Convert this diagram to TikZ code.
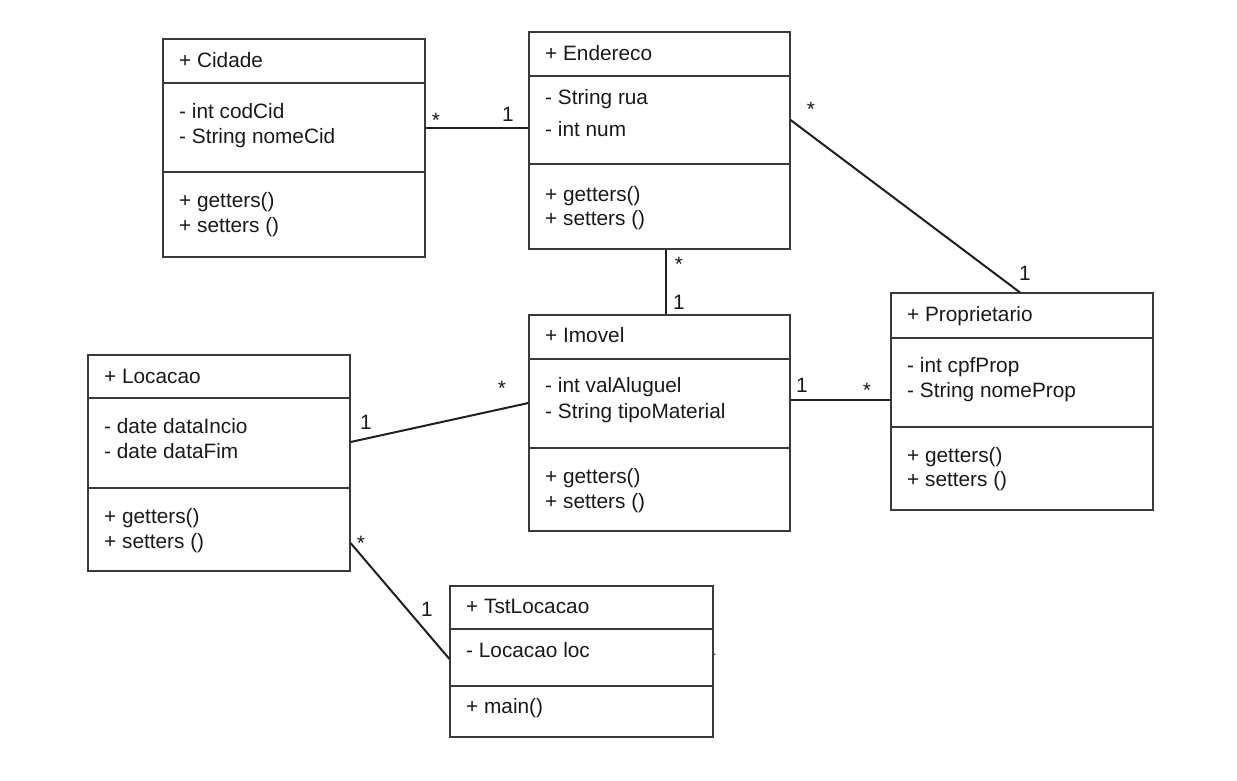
\documentclass[tikz,border=0pt]{standalone}
\usepackage{fontspec}
\setmainfont{Liberation Sans}
\begin{document}
\begin{tikzpicture}[x=1pt,y=-1pt,
  box/.style={draw=boxc, line width=1.1pt, inner sep=0pt, fill=none},
  txt/.style={anchor=base west, inner sep=0pt, text=txtc, font=\fontsize{20.8}{24}\selectfont},
  mult/.style={anchor=base, inner sep=0pt, text=txtc, font=\fontsize{20.8}{24}\selectfont},
  conn/.style={draw=linec, line width=2pt},
  divl/.style={draw=boxc, line width=1.1pt}]
\definecolor{boxc}{HTML}{3A3A3A}
\definecolor{txtc}{HTML}{1A1A1A}
\definecolor{linec}{HTML}{202020}
\useasboundingbox[fill=white] (0,0) rectangle (1237,780);

% ---- Cidade
\node[box, minimum width=262pt, minimum height=218pt] (cid) at (294,148) {};
\draw[divl] (cid.west |- 0,83) -- (cid.east |- 0,83);
\draw[divl] (cid.west |- 0,172) -- (cid.east |- 0,172);
\node[txt] (cidh) at (179,67) {+ Cidade};
\node[txt] (cida1) at (179,118) {- int codCid};
\node[txt] (cida2) at (179,143) {- String nomeCid};
\node[txt] (cidm1) at (179,207) {+ getters()};
\node[txt] (cidm2) at (179,232) {+ setters ()};

% ---- Endereco
\node[box, minimum width=261pt, minimum height=217pt] (end) at (659.5,140.5) {};
\draw[divl] (end.west |- 0,76) -- (end.east |- 0,76);
\draw[divl] (end.west |- 0,164) -- (end.east |- 0,164);
\node[txt] (endh) at (545,60) {+ Endereco};
\node[txt] (enda1) at (545,104) {- String rua};
\node[txt] (enda2) at (545,136) {- int num};
\node[txt] (endm1) at (545,201) {+ getters()};
\node[txt] (endm2) at (545,225) {+ setters ()};

% ---- Imovel
\node[box, minimum width=261pt, minimum height=216pt] (imo) at (659.5,423) {};
\draw[divl] (imo.west |- 0,359) -- (imo.east |- 0,359);
\draw[divl] (imo.west |- 0,448) -- (imo.east |- 0,448);
\node[txt] (imoh) at (545,342) {+ Imovel};
\node[txt] (imoa1) at (545,392) {- int valAluguel};
\node[txt] (imoa2) at (545,418) {- String tipoMaterial};
\node[txt] (imom1) at (545,483) {+ getters()};
\node[txt] (imom2) at (545,508) {+ setters ()};

% ---- Locacao
\node[box, minimum width=262pt, minimum height=216pt] (loc) at (219,463) {};
\draw[divl] (loc.west |- 0,398) -- (loc.east |- 0,398);
\draw[divl] (loc.west |- 0,488) -- (loc.east |- 0,488);
\node[txt] (loch) at (104,383) {+ Locacao};
\node[txt] (loca1) at (104,433) {- date dataIncio};
\node[txt] (loca2) at (104,458) {- date dataFim};
\node[txt] (locm1) at (104,523) {+ getters()};
\node[txt] (locm2) at (104,548) {+ setters ()};

% ---- Proprietario
\node[box, minimum width=262pt, minimum height=217pt] (prop) at (1022,401.5) {};
\draw[divl] (prop.west |- 0,338) -- (prop.east |- 0,338);
\draw[divl] (prop.west |- 0,427) -- (prop.east |- 0,427);
\node[txt] (proph) at (907,321) {+ Proprietario};
\node[txt] (propa1) at (907,372) {- int cpfProp};
\node[txt] (propa2) at (907,397) {- String nomeProp};
\node[txt] (propm1) at (907,462) {+ getters()};
\node[txt] (propm2) at (907,486) {+ setters ()};

% ---- TstLocacao
\node[box, minimum width=263pt, minimum height=151pt] (tst) at (581.5,661.5) {};
\draw[divl] (tst.west |- 0,629) -- (tst.east |- 0,629);
\draw[divl] (tst.west |- 0,686) -- (tst.east |- 0,686);
\node[txt] (tsth) at (466,613) {+ TstLocacao};
\node[txt] (tsta1) at (466,657) {- Locacao loc};
\node[txt] (tstm1) at (466,713) {+ main()};
\node[anchor=base west, inner sep=0pt, text=txtc, font=\fontsize{12}{14}\selectfont] (dot) at (713,655) {.};

% ---- connectors
\draw[conn] (cid.east |- 0,127.5) -- (end.west |- 0,127.5);
\draw[conn] (end.south -| 666,0) -- (imo.north -| 666,0);
\draw[conn] (end.east |- 0,120) -- (prop.north -| 1020,0);
\draw[conn] (loc.east |- 0,442) -- (imo.west |- 0,403);
\draw[conn] (imo.east |- 0,400) -- (prop.west |- 0,400);
\draw[conn] (loc.east |- 0,543) -- (tst.west |- 0,659);

% ---- multiplicities
\node[mult] (m1) at (436,127) {*};
\node[mult] (m2) at (508,121) {1};
\node[mult] (m3) at (811,116) {*};
\node[mult] (m4) at (679,271) {*};
\node[mult] (m5) at (679,309) {1};
\node[mult] (m6) at (1025,280) {1};
\node[mult] (m7) at (802,392) {1};
\node[mult] (m8) at (867,397) {*};
\node[mult] (m9) at (502,395) {*};
\node[mult] (m10) at (366,429) {1};
\node[mult] (m11) at (361,550) {*};
\node[mult] (m12) at (427,616) {1};
\end{tikzpicture}
\end{document}
